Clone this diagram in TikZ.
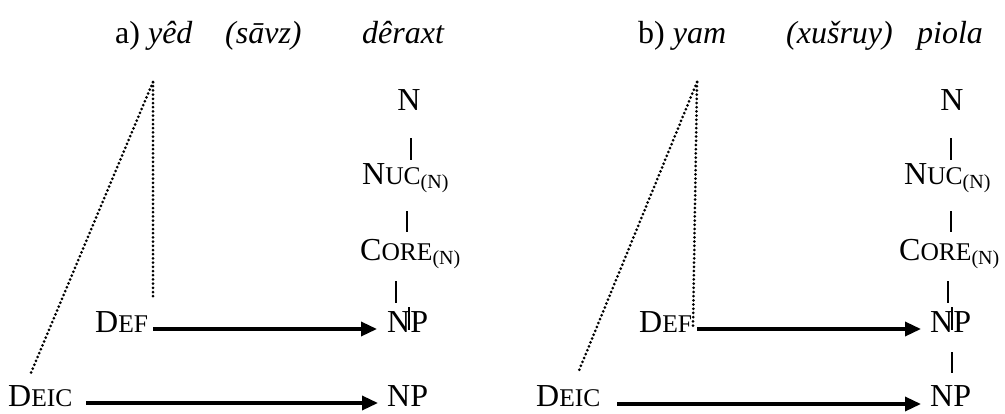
\documentclass[tikz,border=0pt]{standalone}
\usepackage{fontspec}
\setmainfont{Liberation Serif}
\usetikzlibrary{arrows.meta}
\newcommand\SmC[1]{{\fontsize{25.5}{30}\selectfont #1}}
\newcommand\SubN{\raisebox{-4pt}{\fontsize{20}{24}\selectfont (N)}}
\begin{document}
\begin{tikzpicture}[x=1pt,y=-1pt,
  lbl/.style={inner sep=0pt, anchor=base west, font=\fontsize{32}{38}\selectfont},
  tree/.style={line width=2.3pt},
  arr/.style={line width=3.4pt, -{Triangle[length=16pt,width=14pt]}},
  dots/.style={line width=3pt, line cap=round, dash pattern=on 0pt off 4.2pt}]
\useasboundingbox (0,0) rectangle (1005,413);
% ---------- panel a ----------
\node[lbl] (ha) at (115,43) {a) \textit{yêd}};
\node[lbl] (hb) at (225,43) {\textit{(sāvz)}};
\node[lbl] (hc) at (362,43) {\textit{dêraxt}};
\node[lbl, anchor=base] (aN) at (409,110) {N};
\node[lbl] (aNuc) at (362,184) {N\SmC{UC}\SubN};
\node[lbl] (aCore) at (360,260) {C\SmC{ORE}\SubN};
\node[lbl] (aNP) at (387,332) {NP};
\node[lbl] (aNPb) at (387,406) {NP};
\node[lbl] (aDef) at (95,332) {D\SmC{EF}};
\node[lbl] (aDeic) at (8,406) {D\SmC{EIC}};
\coordinate (aApex) at (153,82);
\coordinate (aVend) at (153,300);
\coordinate (aDend) at (30,375);
\coordinate (a1t) at (411,138); \coordinate (a1b) at (411,160);
\coordinate (a2t) at (407,211); \coordinate (a2b) at (407,232);
\coordinate (a3t) at (396,281); \coordinate (a3b) at (396,303);
\coordinate (a4t) at (409,307); \coordinate (a4b) at (409,330);
\draw[tree] (a1t) -- (a1b);
\draw[tree] (a2t) -- (a2b);
\draw[tree] (a3t) -- (a3b);
\draw[tree] (a4t) -- (a4b);
\draw[dots] (aApex) -- (aVend);
\draw[dots] (aApex) -- (aDend);
\coordinate (aA1s) at (153,329); \coordinate (aA1e) at (377,329);
\coordinate (aA2s) at (86,403); \coordinate (aA2e) at (378,403);
\draw[arr] (aA1s) -- (aA1e);
\draw[arr] (aA2s) -- (aA2e);
% ---------- panel b ----------
\node[lbl] (ba) at (638,43) {b) \textit{yam}};
\node[lbl] (bb) at (786,43) {\textit{(xušruy)}};
\node[lbl] (bc) at (917,43) {\textit{piola}};
\node[lbl, anchor=base] (bN) at (952,110) {N};
\node[lbl] (bNuc) at (904,184) {N\SmC{UC}\SubN};
\node[lbl] (bCore) at (899,260) {C\SmC{ORE}\SubN};
\node[lbl] (bNP) at (930,332) {NP};
\node[lbl] (bNPb) at (930,406) {NP};
\node[lbl] (bDef) at (639,332) {D\SmC{EF}};
\node[lbl] (bDeic) at (536,406) {D\SmC{EIC}};
\coordinate (bApex) at (697,82);
\coordinate (bVend) at (693,328);
\coordinate (bDend) at (578,373);
\coordinate (b1t) at (951,138); \coordinate (b1b) at (951,160);
\coordinate (b2t) at (951,211); \coordinate (b2b) at (951,232);
\coordinate (b3t) at (948,281); \coordinate (b3b) at (948,303);
\coordinate (b4t) at (952,307); \coordinate (b4b) at (952,330);
\coordinate (b5t) at (952,352); \coordinate (b5b) at (952,373);
\draw[tree] (b1t) -- (b1b);
\draw[tree] (b2t) -- (b2b);
\draw[tree] (b3t) -- (b3b);
\draw[tree] (b4t) -- (b4b);
\draw[tree] (b5t) -- (b5b);
\draw[dots] (bApex) -- (bVend);
\draw[dots] (bApex) -- (bDend);
\coordinate (bA1s) at (697,329); \coordinate (bA1e) at (921,329);
\coordinate (bA2s) at (617,404); \coordinate (bA2e) at (921,404);
\draw[arr] (bA1s) -- (bA1e);
\draw[arr] (bA2s) -- (bA2e);
\end{tikzpicture}
\end{document}
